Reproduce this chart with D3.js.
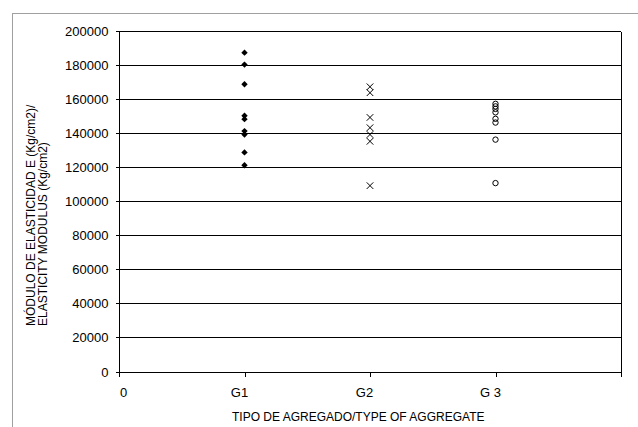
<!DOCTYPE html>
<html><head><meta charset="utf-8">
<script src="https://cdn.jsdelivr.net/npm/d3@7"></script>
<style>body{margin:0;background:#fff;} svg{display:block;font-family:"Liberation Sans",Arial,sans-serif;}</style>
</head><body><svg id="c" width="638" height="427"></svg>
<script>
const categories = ["0", "G1", "G2", "G 3", ""];
const g1Values = [187000, 180000, 168500, 150000, 148000, 141000, 139000, 128500, 121000];
const g2Values = [167000, 163500, 149000, 143000, 139000, 135000, 109000];
const g3Values = [157000, 155500, 154000, 152000, 148200, 146000, 136000, 110500];
const yTicks = [0, 20000, 40000, 60000, 80000, 100000, 120000, 140000, 160000, 180000, 200000];
const yTitle = ["MÓDULO DE ELASTICIDAD E (Kg/cm2)/", "ELASTICITY MODULUS (Kg/cm2)"];
const xTitle = "TIPO DE AGREGADO/TYPE OF AGGREGATE";

const svg = d3.select("#c");
svg.append("rect").attr("x",12.5).attr("y",13.5).attr("width",700).attr("height",500)
  .attr("fill","#fff").attr("stroke","#a0a0a0").attr("stroke-width",1);

const x = d3.scaleLinear().domain([0, categories.length-1]).range([119, 621]);
const y = d3.scaleLinear().domain([0, 200000]).range([371.5, 30.5]);

const g = svg.append("g").attr("shape-rendering","crispEdges");
// gridlines
g.selectAll(".grid").data(yTicks.filter(d=>d>0)).join("line")
  .attr("x1", x.range()[0]).attr("x2", x.range()[1])
  .attr("y1", d=>Math.round(y(d))+0.5).attr("y2", d=>Math.round(y(d))+0.5)
  .attr("stroke","#000").attr("stroke-width",1);
// right border
g.append("line").attr("x1",x.range()[1]+0.5).attr("x2",x.range()[1]+0.5)
  .attr("y1",Math.round(y(200000))+0.5).attr("y2",Math.round(y(0))+0.5).attr("stroke","#000");

// y axis
const yAxis = svg.append("g").attr("transform",`translate(${x(0)+0.5},0)`)
  .call(d3.axisLeft(y).tickValues(yTicks).tickFormat(d=>String(d)).tickSize(4).tickPadding(7).offset(0));
yAxis.selectAll("path,line").attr("stroke","#000").attr("shape-rendering","crispEdges");
yAxis.select(".domain").attr("d",`M0,${Math.round(y(200000))+0.5}V${Math.round(y(0))+0.5}`);
yAxis.selectAll("text").attr("font-size",13).attr("fill","#000").attr("font-family","Liberation Sans, Arial, sans-serif");
yAxis.selectAll(".tick").attr("transform", d=>`translate(0,${Math.round(y(d))+0.5})`);

// x axis
const xAxis = svg.append("g").attr("transform",`translate(0,${Math.round(y(0))+0.5})`)
  .call(d3.axisBottom(x).tickValues(d3.range(categories.length)).tickFormat(i=>categories[i]).tickSize(4).tickPadding(11).offset(0));
xAxis.selectAll("path,line").attr("stroke","#000").attr("shape-rendering","crispEdges");
xAxis.select(".domain").attr("d",`M${x(0)},0H${x(categories.length-1)+1}`);
xAxis.selectAll(".tick").attr("transform", d=>`translate(${Math.round(x(d))+0.5},0)`);
xAxis.selectAll("text").attr("font-size",13).attr("fill","#000")
  .attr("font-family","Liberation Sans, Arial, sans-serif")
  .attr("dx", (d,i)=> i===0 ? 4 : -6);

// markers
const gm = svg.append("g");
gm.selectAll(".g1").data(g1Values).join("path")
  .attr("d", d3.symbol(d3.symbolDiamond2).size(26))
  .attr("transform", d=>`translate(${x(1)},${y(d)})`)
  .attr("fill","#000");
gm.selectAll(".g2").data(g2Values).join("path")
  .attr("d", d3.symbol(d3.symbolTimes).size(30))
  .attr("transform", d=>`translate(${x(2)},${y(d)})`)
  .attr("fill","none").attr("stroke","#000").attr("stroke-width",1);
gm.selectAll(".g3").data(g3Values).join("circle")
  .attr("cx", x(3)).attr("cy", d=>y(d)).attr("r",2.7)
  .attr("fill","none").attr("stroke","#000").attr("stroke-width",1);

// titles
svg.append("text").attr("x",232).attr("y",421).attr("font-size",12).attr("fill","#000").text(xTitle);
const yt = svg.append("text").attr("transform","translate(0,326) rotate(-90)").attr("font-size",12).attr("fill","#000");
yTitle.forEach((t,i)=> yt.append("tspan").attr("x",0).attr("y",35+i*11.5).text(t));
</script></body></html>
